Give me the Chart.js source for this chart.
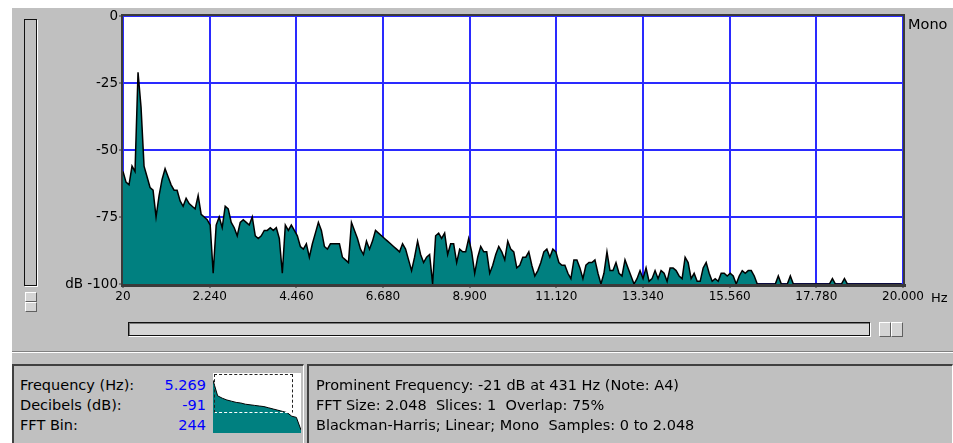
<!DOCTYPE html>
<html>
<head>
<meta charset="utf-8">
<script src="https://cdn.jsdelivr.net/npm/chart.js@4"></script>
<style>
  html, body { margin: 0; padding: 0; }
  body { width: 953px; height: 443px; background: #fff; overflow: hidden; position: relative;
         font-family: 'DejaVu Sans', sans-serif; }
  .abs { position: absolute; }
  #pane { left: 12px; top: 8px; right: 0; bottom: 0; background: #c0c0c0; }
  #main { left: 0; top: 0; }
  #vslider { left: 24px; top: 19px; width: 11px; height: 265px; border: 1px solid #111;
             box-shadow: 1px 1px 0 #fff; background: #c0c0c0; }
  .btn { background: #d4d4d4; border: 1px solid; border-color: #fff #606060 #606060 #fff; box-sizing: border-box; }
  #hscroll { left: 128px; top: 322px; width: 740px; height: 12px; border: 1px solid #111;
             box-shadow: inset 1px 1px 0 #7a7a7a, 1px 1px 0 #fff; background: #d6d6d6; }
  .etch { left: 12px; width: 941px; height: 1px; }
  .panel { top: 364px; height: 90px; border-top: 2px solid #404040; border-left: 2px solid #404040;
           border-right: 1px solid #fff; box-sizing: border-box; }
  .txt { font-size: 14.5px; line-height: 20px; color: #000; white-space: pre; }
  .val { color: #0000ff; text-align: right; }
  #mini { left: 213px; top: 373px; background: #fff; }
  #cursor { left: 214px; top: 374px; width: 77px; height: 37px; border: 1px dashed #222;
            border-bottom: 1px dashed #fff; }
</style>
</head>
<body>
<div id="pane" class="abs"></div>
<div id="vslider" class="abs"></div>
<div class="abs btn" style="left:25px;top:292px;width:12px;height:10px;"></div>
<div class="abs btn" style="left:25px;top:302px;width:12px;height:10px;"></div>
<div id="hscroll" class="abs"></div>
<div class="abs btn" style="left:879px;top:322px;width:12px;height:15px;"></div>
<div class="abs btn" style="left:891px;top:322px;width:12px;height:15px;"></div>
<div class="abs etch" style="top:351px;background:#808080;"></div>
<div class="abs etch" style="top:352px;background:#fff;"></div>

<div class="abs panel" style="left:12px;width:292px;"></div>
<div class="abs panel" style="left:307px;width:646px;"></div>

<canvas id="main" class="abs" width="953" height="310"></canvas>
<div class="abs txt" style="left:908px;top:14px;">Mono</div>
<div class="abs txt" style="left:931px;top:288px;font-size:13px;">Hz</div>

<div class="abs txt" style="left:20px;top:375px;">Frequency (Hz):
Decibels (dB):
FFT Bin:</div>
<div class="abs txt val" style="left:140px;top:375px;width:66px;">5.269
-91
244</div>
<canvas id="mini" class="abs" width="88" height="60"></canvas>
<div id="cursor" class="abs"></div>

<div class="abs txt" style="left:316px;top:375px;">Prominent Frequency: -21 dB at 431 Hz (Note: A4)
FFT Size: 2.048  Slices: 1  Overlap: 75%
Blackman-Harris; Linear; Mono  Samples: 0 to 2.048</div>

<script>
// axis ticks
const X_TICKS = [20, 2240, 4460, 6680, 8900, 11120, 13340, 15560, 17780, 20000];
const Y_TICKS = [0, -25, -50, -75, -100];

// spectrum, every ~77 Hz starting at 20 Hz
const BIN_START_HZ = 20;
const BIN_STEP_HZ = 77;
const SPECTRUM_DB = [
  -58, -62, -63, -56, -58, -21, -34, -56, -60, -64,
  -65, -75, -67, -61, -57, -60, -63, -65, -65, -69,
  -71, -68, -70, -71, -72, -67, -74, -75, -76, -78,
  -96, -78, -75, -79, -71, -72, -77, -79, -82, -77,
  -76, -77, -78, -75, -82, -83, -82, -80, -80, -79,
  -80, -79, -83, -96, -78, -80, -78, -80, -82, -86,
  -87, -85, -90, -85, -81, -77, -80, -86, -87, -85,
  -85, -85, -85, -90, -91, -92, -77, -80, -83, -87,
  -89, -84, -87, -84, -80, -81, -82, -83, -84, -85,
  -86, -87, -88, -85, -87, -91, -95, -90, -84, -89,
  -92, -90, -89, -100, -82, -81, -83, -81, -89, -85,
  -85, -92, -87, -88, -88, -83, -88, -96, -90, -86,
  -88, -88, -96, -93, -89, -86, -88, -91, -84, -87,
  -88, -94, -93, -90, -90, -88, -93, -97, -95, -92,
  -88, -87, -90, -87, -88, -92, -93, -93, -96, -98,
  -91, -91, -94, -98, -93, -92, -92, -91, -96, -100,
  -96, -88, -95, -95, -92, -96, -97, -91, -94, -97,
  -100, -98, -95, -98, -94, -99, -98, -95, -98, -95,
  -96, -99, -94, -94, -95, -97, -98, -90, -92, -98,
  -96, -99, -99, -94, -92, -96, -99, -98, -99, -96,
  -96, -97, -96, -97, -100, -97, -95, -96, -95, -95,
  -97, -100, -100, -100, -100, -100, -100, -100, -97, -100,
  -100, -100, -97, -100, -100, -100, -100, -100, -100, -100,
  -100, -100, -100, -100, -100, -100, -98, -100, -100, -100,
  -98, -100, -100, -100, -100, -100, -100, -100, -100, -100,
  -100, -100, -100, -100, -100, -100, -100, -100, -100, -100,
];

// small overview graph in the readout panel
const OVERVIEW_DB = [-12, -38, -42, -45, -47, -49, -50, -52, -53, -54,
                     -55, -56, -58, -60, -62, -64, -66, -72, -74, -95];

const TEAL = '#008080';
const GRID_BLUE = '#2a2aff';

function dotThousands(v) {
  const s = String(v);
  return s.length > 3 ? s.slice(0, -3) + '.' + s.slice(-3) : s;
}

// white plot background plus dark frame round it, like the original control
const framePlugin = {
  id: 'frame',
  beforeDraw(chart) {
    const { ctx, chartArea: a } = chart;
    ctx.save();
    ctx.fillStyle = '#fff';
    ctx.fillRect(a.left, a.top, a.right - a.left, a.bottom - a.top);
    ctx.restore();
  },
  afterDraw(chart) {
    const { ctx, chartArea: a } = chart;
    ctx.save();
    ctx.fillStyle = '#3a3a3a';
    ctx.fillRect(a.left - 2, a.top - 2, a.right - a.left + 4, 2);
    ctx.fillRect(a.left - 2, a.top - 2, 2, a.bottom - a.top + 5);
    ctx.fillRect(a.left - 2, a.bottom, a.right - a.left + 5, 3);
    ctx.fillRect(a.right, a.top - 2, 2, a.bottom - a.top + 5);
    ctx.restore();
  },
};

new Chart(document.getElementById('main'), {
  type: 'line',
  data: {
    datasets: [{
      data: SPECTRUM_DB.map((db, i) => ({ x: BIN_START_HZ + i * BIN_STEP_HZ, y: db })),
      borderColor: '#000',
      borderWidth: 1.5,
      backgroundColor: TEAL,
      fill: 'start',
      pointRadius: 0,
      tension: 0,
    }],
  },
  options: {
    responsive: false,
    animation: false,
    layout: { padding: { top: 16, right: 50, left: 0, bottom: 0 } },
    plugins: { legend: { display: false }, tooltip: { enabled: false } },
    scales: {
      x: {
        type: 'linear', min: 20, max: 20000,
        afterBuildTicks: s => { s.ticks = X_TICKS.map(v => ({ value: v })); },
        afterFit: s => { s.height = 26; },
        grid: { color: GRID_BLUE, lineWidth: 2, tickColor: '#333', tickLength: 4, tickWidth: 1 },
        border: { display: false },
        ticks: { color: '#000', padding: 2, maxRotation: 0, autoSkip: false,
                 font: { family: 'DejaVu Sans', size: 12 }, callback: v => dotThousands(v) },
      },
      y: {
        min: -100, max: 0,
        afterBuildTicks: s => { s.ticks = Y_TICKS.map(v => ({ value: v })); },
        afterFit: s => { s.width = 123; },
        grid: { color: GRID_BLUE, lineWidth: 2, tickColor: '#333', tickLength: 4, tickWidth: 1 },
        border: { display: false },
        ticks: { color: '#000', padding: 1,
                 font: { family: 'DejaVu Sans', size: 13.5 },
                 callback: v => (v === -100 ? 'dB -100' : String(v)) },
      },
    },
  },
  plugins: [framePlugin],
});

new Chart(document.getElementById('mini'), {
  type: 'line',
  data: {
    labels: OVERVIEW_DB.map((_, i) => i),
    datasets: [{
      data: OVERVIEW_DB,
      borderColor: '#000', borderWidth: 1,
      backgroundColor: TEAL, fill: 'start',
      pointRadius: 0, tension: 0,
    }],
  },
  options: {
    responsive: false,
    animation: false,
    layout: { padding: 0 },
    plugins: { legend: { display: false }, tooltip: { enabled: false } },
    scales: {
      x: { display: false, offset: false },
      y: { display: false, min: -100, max: 0 },
    },
  },
});
</script>
</body>
</html>
